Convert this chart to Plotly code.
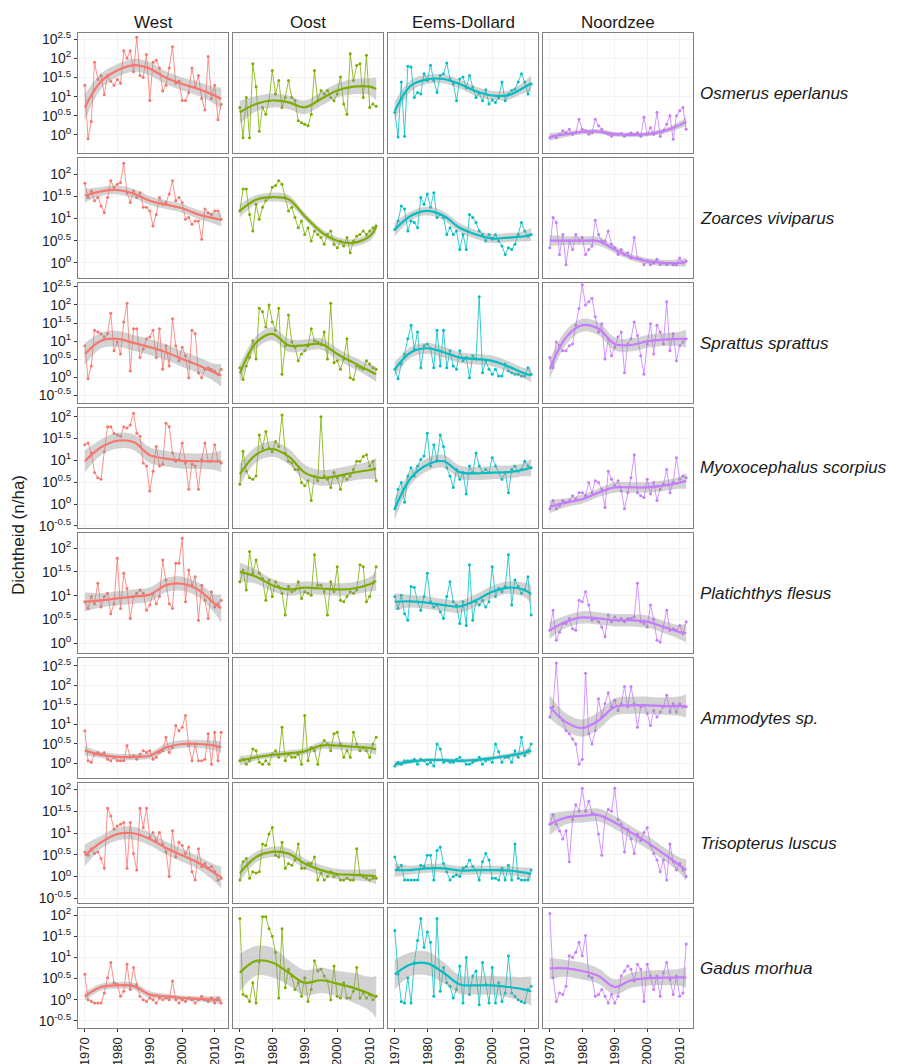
import plotly.graph_objects as go

# ---------------- data (values are log10 of density, n/ha) ----------------
years = list(range(1970, 2013))
knot_years = [1970, 1975, 1980, 1985, 1990, 1995, 2000, 2005, 2010, 2012]
regions = ["West", "Oost", "Eems-Dollard", "Noordzee"]
species = ["Osmerus eperlanus", "Zoarces viviparus", "Sprattus sprattus",
           "Myoxocephalus scorpius", "Platichthys flesus", "Ammodytes sp.",
           "Trisopterus luscus", "Gadus morhua"]
region_colors = ["#F8766D", "#7CAE00", "#00BFC4", "#C77CFF"]
x_ticks = [1970, 1980, 1990, 2000, 2010]

# per species: [West, Oost, Eems-Dollard, Noordzee]
osmerus_raw = [
    [1.3, -0.1, 0.35, 1.9, 1.45, 1.55, 1.05, 1.55, 1.4, 1.3, 1.45, 1.35, 2.2, 2.0, 2.2, 1.65, 2.55, 1.55, 1.5, 2.1,
     0.9, 1.9, 1.95, 1.75, 1.15, 1.3, 1.75, 2.3, 1.35, 1.4, 0.9, 0.9, 1.1, 1.75, 1.25, 1.55, 0.95, 0.65, 2.05, 0.95,
     1.3, 0.4, 0.8],
    [0.72, -0.07, 0.98, -0.07, 1.86, 1.26, 0.1, 0.72, 0.54, 0.89, 1.68, 1.07, 1.42, 0.72, 0.98, 1.42, 0.98, 0.89, 0.37, 0.32,
     0.28, 0.24, 0.54, 1.68, 0.89, 1.16, 1.07, 1.16, 0.98, 0.89, 1.07, 1.51, 0.81, 0.54, 2.12, 1.42, 1.81, 1.86, 0.98, 2.08,
     0.72, 0.81, 0.75],
    [0.59, -0.05, 1.38, -0.03, 1.79, 1.77, 0.98, 1.11, 1.07, 1.6, 1.42, 1.82, 1.42, 1.11, 1.55, 1.6, 1.88, 1.46, 1.33, 0.89,
     1.46, 1.51, 1.23, 1.55, 1.25, 0.98, 1.09, 0.89, 1.18, 0.81, 0.91, 0.85, 0.98, 1.38, 0.89, 1.07, 1.16, 1.2, 1.38, 1.6,
     1.38, 1.07, 1.33],
    [-0.07, -0.03, -0.07, 0.02, 0.11, 0.06, 0.15, 0.02, 0.06, 0.41, 0.15, 0.11, 0.02, 0.06, 0.41, 0.24, 0.15, 0.06, 0.02, -0.03,
     0.02, 0.02, 0.04, -0.03, 0.02, 0.06, 0.02, 0.06, -0.03, 0.46, 0.02, 0.19, 0.02, 0.59, -0.03, 0.11, 0.28, 0.5, -0.11, 0.5,
     0.63, 0.72, 0.15],
]
osmerus_smooth = [
    [0.72, 1.4, 1.68, 1.82, 1.73, 1.49, 1.33, 1.2, 1.03, 0.94],
    [0.59, 0.81, 0.9, 0.85, 0.72, 0.94, 1.16, 1.26, 1.26, 1.2],
    [0.63, 1.29, 1.45, 1.46, 1.33, 1.14, 1.03, 1.04, 1.25, 1.35],
    [-0.05, 0.02, 0.08, 0.09, 0.02, 0.0, 0.02, 0.1, 0.26, 0.35],
]
osmerus_band = [
    [0.35, 0.2, 0.17, 0.17, 0.17, 0.17, 0.17, 0.18, 0.22, 0.3],
    [0.3, 0.2, 0.18, 0.18, 0.18, 0.18, 0.18, 0.2, 0.22, 0.3],
    [0.25, 0.15, 0.12, 0.12, 0.12, 0.12, 0.12, 0.12, 0.15, 0.2],
    [0.1, 0.07, 0.06, 0.06, 0.06, 0.06, 0.06, 0.07, 0.09, 0.12],
]

zoarces_raw = [
    [1.79, 1.47, 1.62, 1.40, 1.47, 1.28, 1.13, 1.47, 1.85, 1.70, 1.77, 1.81, 2.24, 1.58, 1.36, 1.62, 1.47, 1.58, 1.25, 1.25,
     1.17, 0.83, 1.09, 1.47, 1.32, 1.36, 1.55, 1.85, 1.40, 1.47, 1.36, 0.98, 1.02, 0.87, 0.94, 0.94, 0.53, 1.21, 1.13, 1.09,
     1.17, 1.17, 0.98],
    [1.17, 1.66, 1.66, 1.09, 0.72, 1.32, 0.98, 1.25, 1.40, 1.47, 1.70, 1.74, 1.85, 1.77, 1.47, 1.17, 1.25, 1.02, 0.79, 0.94,
     0.64, 0.79, 0.49, 0.72, 0.64, 0.57, 0.42, 0.64, 0.72, 0.42, 0.34, 0.49, 0.38, 0.57, 0.23, 0.49, 0.60, 0.64, 0.72, 0.64,
     0.72, 0.79, 0.83],
    [0.75, 0.94, 1.28, 1.21, 0.72, 0.94, 0.91, 0.79, 1.47, 1.32, 1.55, 1.25, 1.58, 1.02, 1.09, 1.02, 0.64, 0.79, 0.64, 0.72,
     0.30, 0.64, 0.30, 1.09, 1.02, 0.91, 0.72, 0.64, 0.49, 0.64, 0.53, 0.64, 0.49, 0.38, 0.19, 0.34, 0.30, 0.42, 0.64, 0.91,
     0.72, 0.60, 0.64],
    [0.34, 1.02, 0.91, 0.19, 0.64, -0.04, 0.49, 0.30, 0.64, 0.49, 0.57, 0.19, 0.30, 0.38, 0.96, 0.64, 0.49, 0.49, 0.72, 0.42,
     0.34, 0.19, 0.30, 0.19, 0.23, 0.11, 0.57, 0.11, 0.08, -0.04, 0.04, -0.04, 0.0, 0.08, -0.04, 0.0, -0.04, 0.0, -0.04, -0.04,
     0.11, 0.0, 0.04],
]
zoarces_smooth = [
    [1.51, 1.61, 1.64, 1.56, 1.40, 1.31, 1.23, 1.09, 1.0, 0.97],
    [1.17, 1.42, 1.48, 1.43, 1.05, 0.7, 0.5, 0.45, 0.6, 0.8],
    [0.75, 1.06, 1.17, 1.06, 0.79, 0.64, 0.55, 0.57, 0.6, 0.64],
    [0.5, 0.5, 0.5, 0.49, 0.3, 0.13, 0.04, 0.0, 0.0, 0.02],
]
zoarces_band = [
    [0.15, 0.1, 0.1, 0.1, 0.1, 0.1, 0.1, 0.1, 0.12, 0.15],
    [0.15, 0.1, 0.1, 0.1, 0.08, 0.08, 0.08, 0.08, 0.1, 0.12],
    [0.15, 0.1, 0.1, 0.1, 0.1, 0.1, 0.1, 0.1, 0.12, 0.15],
    [0.12, 0.1, 0.1, 0.1, 0.08, 0.07, 0.07, 0.07, 0.08, 0.1],
]

sprattus_raw = [
    [0.87, -0.05, 0.31, 1.30, 1.25, 1.20, 1.11, 1.20, 1.77, 0.73, 0.97, 0.64, 1.53, 2.05, 0.17, 1.34, 1.34, 0.54, 0.78, 1.06,
     1.11, 1.30, 0.54, 1.34, 0.22, 0.87, 0.31, 1.62, 0.87, 0.45, 0.83, 0.59, -0.02, 1.30, 1.20, 0.12, -0.02, 0.22, 0.26, 0.22,
     0.17, 0.08, 0.22],
    [0.26, -0.07, 0.31, 0.54, 1.01, 0.50, 1.91, 1.81, 1.39, 2.0, 1.53, 1.30, 1.91, 0.08, 0.87, 1.72, 0.97, 0.83, 0.45, 0.64,
     0.73, 0.87, 1.34, 1.01, 0.97, 0.90, 1.25, 0.50, 2.05, 0.40, 0.45, 0.22, 0.50, 1.06, -0.02, -0.07, 0.31, 0.26, 0.22, 0.45,
     0.36, 0.26, 0.22],
    [0.22, -0.05, 0.36, 0.64, 1.06, 1.44, 0.78, 1.25, 0.26, 0.87, 0.92, 0.80, 0.26, 1.30, 0.31, 1.30, 0.26, 0.73, 0.31, 0.22,
     0.73, 0.45, 0.54, -0.02, 0.59, 0.50, 2.23, 0.12, 0.45, 0.22, 0.08, 0.22, 0.03, 0.03, 0.36, 0.17, 0.12, 0.08, 0.08, 0.03,
     0.03, 0.26, 0.08],
    [0.54, 0.26, 0.97, 0.87, 0.73, 0.73, 0.87, 0.92, 1.44, 1.9, 2.56, 2.0, 2.09, 2.19, 1.67, 1.25, 1.48, 0.50, 1.06, 0.59,
     0.83, 1.11, 1.25, 0.12, 0.92, 1.06, 1.53, 1.15, 0.59, 0.08, 0.92, 1.48, 0.64, 1.44, 1.25, 0.92, 2.09, 0.73, 1.20, 0.45,
     0.87, 0.97, 1.06],
]
sprattus_smooth = [
    [0.64, 1.01, 1.06, 0.95, 0.83, 0.69, 0.5, 0.33, 0.12, 0.05],
    [0.1, 0.95, 1.2, 0.88, 0.88, 0.92, 0.64, 0.4, 0.17, 0.08],
    [0.22, 0.69, 0.8, 0.69, 0.54, 0.5, 0.45, 0.29, 0.1, 0.05],
    [0.22, 1.1, 1.44, 1.34, 0.92, 0.89, 0.99, 1.04, 1.06, 1.06],
]
sprattus_band = [
    [0.3, 0.22, 0.22, 0.22, 0.22, 0.22, 0.22, 0.22, 0.25, 0.32],
    [0.25, 0.18, 0.18, 0.18, 0.16, 0.16, 0.16, 0.16, 0.18, 0.22],
    [0.2, 0.15, 0.15, 0.15, 0.15, 0.15, 0.15, 0.15, 0.15, 0.2],
    [0.28, 0.2, 0.18, 0.18, 0.18, 0.18, 0.18, 0.18, 0.2, 0.25],
]

myoxo_raw = [
    [1.36, 1.40, 1.17, 0.72, 0.60, 0.57, 1.2, 1.77, 1.77, 1.62, 1.58, 1.55, 1.77, 1.74, 1.81, 2.08, 1.62, 1.55, 0.94, 0.87,
     0.30, 0.75, 1.32, 0.87, 0.91, 1.85, 1.77, 1.17, 0.98, 1.02, 1.40, 0.94, 0.34, 0.91, 0.87, 0.34, 1.02, 1.40, 0.98, 0.98,
     1.36, 0.98, 0.94],
    [0.45, 1.21, 0.75, 0.60, 0.57, 0.64, 1.58, 1.28, 1.66, 1.28, 1.20, 1.43, 1.32, 2.04, 1.17, 0.98, 0.94, 0.79, 0.79, 0.49,
     0.42, 0.53, 0.08, 0.64, 0.53, 2.0, 0.64, 0.57, 0.38, 0.72, 0.60, 0.34, 0.64, 0.57, 0.64, 0.79, 0.98, 0.98, 1.09, 1.13,
     0.87, 0.98, 0.53],
    [-0.11, 0.34, 0.49, 0.04, 0.64, 0.83, 0.64, 0.87, 1.02, 1.1, 1.62, 0.87, 1.36, 1.0, 1.58, 1.32, 0.83, 0.64, 0.38, 0.79,
     0.57, 0.72, 0.23, 0.87, 0.72, 1.17, 0.87, 0.72, 0.79, 0.72, 1.06, 0.87, 0.72, 0.57, 0.72, 0.26, 0.79, 0.87, 0.75, 0.79,
     0.98, 0.87, 0.83],
    [-0.11, 0.08, -0.11, -0.04, 0.08, 0.04, 0.08, 0.19, 0.11, 0.26, 0.26, 0.19, 0.49, 0.26, 0.53, 0.49, 0.34, -0.08, 0.75, 0.57,
     0.42, 0.53, 0.30, -0.11, 0.26, 0.60, 1.13, 0.26, 0.19, 0.15, 0.57, 0.23, 0.49, 0.08, 0.34, 0.45, 0.79, 0.26, 0.49, 1.06,
     0.57, 0.64, 0.60],
]
myoxo_smooth = [
    [0.98, 1.3, 1.45, 1.42, 1.12, 1.04, 0.99, 0.98, 0.98, 0.98],
    [0.68, 1.13, 1.26, 1.09, 0.72, 0.6, 0.64, 0.72, 0.78, 0.81],
    [-0.11, 0.6, 0.9, 0.98, 0.73, 0.7, 0.72, 0.73, 0.79, 0.83],
    [-0.06, 0.03, 0.11, 0.26, 0.38, 0.38, 0.38, 0.42, 0.49, 0.53],
]
myoxo_band = [
    [0.25, 0.18, 0.18, 0.18, 0.18, 0.18, 0.18, 0.18, 0.2, 0.25],
    [0.25, 0.18, 0.18, 0.18, 0.18, 0.18, 0.18, 0.18, 0.2, 0.25],
    [0.25, 0.15, 0.15, 0.15, 0.15, 0.15, 0.15, 0.15, 0.15, 0.2],
    [0.15, 0.1, 0.1, 0.1, 0.12, 0.12, 0.12, 0.12, 0.14, 0.18],
]

platichthys_raw = [
    [0.87, 0.73, 0.98, 0.83, 1.26, 0.76, 0.98, 1.05, 0.62, 0.83, 1.79, 0.73, 1.47, 1.15, 0.52, 0.98, 1.05, 1.12, 1.05, 0.69,
     0.80, 1.05, 0.83, 0.98, 1.75, 1.33, 0.83, 0.73, 1.68, 1.68, 2.21, 0.87, 1.54, 1.22, 1.40, 0.48, 1.22, 0.90, 0.52, 1.08,
     0.76, 0.83, 0.90],
    [1.29, 1.54, 1.12, 1.93, 1.47, 1.75, 1.47, 1.36, 0.90, 1.33, 0.98, 1.29, 1.19, 1.05, 0.59, 1.19, 1.08, 1.12, 1.29, 0.94,
     1.08, 1.05, 1.01, 1.86, 1.22, 1.22, 1.08, 0.59, 1.29, 1.08, 1.61, 0.90, 0.87, 0.98, 1.08, 1.05, 1.12, 1.65, 1.61, 0.87,
     0.98, 1.26, 1.61],
    [0.98, 0.73, 1.01, 0.62, 0.48, 1.19, 1.17, 0.87, 0.69, 0.98, 1.47, 0.87, 0.76, 0.80, 0.66, 0.52, 0.98, 1.29, 0.87, 0.80,
     0.41, 0.87, 0.37, 1.65, 0.48, 0.87, 0.80, 0.90, 0.76, 0.87, 1.61, 0.98, 1.15, 1.08, 1.19, 1.86, 0.80, 1.33, 1.19, 1.05,
     1.12, 1.40, 0.59],
    [0.27, 0.69, 0.06, 0.23, 0.41, 0.41, 0.52, 0.30, 0.27, 0.90, 0.87, 1.08, 0.80, 0.48, 0.52, 0.45, 0.34, 0.13, 0.59, 0.45,
     0.55, 0.48, 0.52, 0.45, 0.52, 0.52, 0.55, 1.26, 0.45, 0.41, 0.34, 0.80, 0.50, 0.06, 0.02, 0.34, 0.69, 0.27, 0.30, 0.27,
     0.37, 0.20, 0.45],
]
platichthys_smooth = [
    [0.87, 0.9, 0.94, 0.98, 1.02, 1.22, 1.25, 1.12, 0.83, 0.73],
    [1.5, 1.4, 1.22, 1.13, 1.17, 1.15, 1.13, 1.15, 1.24, 1.31],
    [0.87, 0.88, 0.85, 0.8, 0.77, 0.9, 1.08, 1.17, 1.12, 1.03],
    [0.27, 0.45, 0.54, 0.52, 0.48, 0.48, 0.45, 0.34, 0.23, 0.21],
]
platichthys_band = [
    [0.2, 0.15, 0.15, 0.15, 0.15, 0.15, 0.15, 0.15, 0.2, 0.3],
    [0.2, 0.15, 0.13, 0.13, 0.13, 0.13, 0.13, 0.13, 0.15, 0.2],
    [0.18, 0.13, 0.13, 0.13, 0.13, 0.13, 0.13, 0.13, 0.15, 0.2],
    [0.18, 0.13, 0.13, 0.13, 0.13, 0.13, 0.13, 0.13, 0.15, 0.2],
]

ammodytes_raw = [
    [0.84, 0.07, 0.03, 0.24, 0.28, 0.24, 0.28, 0.11, 0.07, 0.16, 0.07, 0.07, 0.07, 0.46, 0.16, 0.20, 0.11, 0.24, 0.33, 0.28,
     0.33, 0.11, 0.16, 0.28, 0.33, 0.67, 0.28, 0.41, 0.97, 0.84, 0.93, 1.23, 0.46, 0.07, 0.50, 0.07, 0.07, 0.11, 0.76, -0.02,
     0.80, 0.07, 0.80],
    [0.07, 0.11, -0.02, 0.07, 0.37, 0.33, 0.03, -0.02, 0.07, -0.02, 0.24, 0.33, 0.16, 0.93, 0.07, 0.24, 0.16, 0.16, 0.24, -0.02,
     1.23, 0.07, 0.41, 0.33, -0.02, 0.46, 0.59, 0.50, 0.33, 0.76, 0.80, 0.50, 0.16, 0.33, 0.16, 0.80, 0.50, 0.33, 0.41, 0.33,
     0.16, 0.50, 0.67],
    [-0.06, 0.03, -0.02, 0.07, 0.07, 0.07, 0.11, -0.02, 0.11, 0.07, -0.02, 0.03, -0.06, 0.50, 0.37, 0.03, 0.07, 0.03, 0.03, 0.11,
     0.16, 0.07, -0.02, -0.02, 0.03, 0.07, 0.16, -0.02, 0.07, 0.11, 0.03, 0.50, 0.30, 0.03, 0.16, 0.16, 0.03, 0.33, 0.16, 0.67,
     0.20, 0.33, 0.50],
    [1.19, 1.45, 2.57, 1.19, 1.10, 0.84, 0.76, 0.63, 0.50, -0.02, 0.11, 2.31, 0.76, 0.50, 0.84, 1.66, 1.19, 1.53, 1.81, 1.45,
     1.62, 1.36, 1.53, 1.97, 1.45, 1.97, 1.53, 0.93, 1.45, 1.49, 1.28, 0.97, 1.36, 1.19, 1.32, 1.45, 1.75, 1.32, 1.53, 1.32,
     1.53, 1.45, 1.45],
]
ammodytes_smooth = [
    [0.33, 0.22, 0.17, 0.17, 0.2, 0.41, 0.5, 0.5, 0.46, 0.41],
    [0.07, 0.16, 0.22, 0.26, 0.31, 0.46, 0.46, 0.43, 0.4, 0.36],
    [-0.02, 0.05, 0.09, 0.09, 0.07, 0.09, 0.14, 0.2, 0.28, 0.33],
    [1.45, 1.06, 0.91, 1.1, 1.45, 1.49, 1.49, 1.47, 1.47, 1.47],
]
ammodytes_band = [
    [0.12, 0.08, 0.08, 0.08, 0.08, 0.1, 0.1, 0.1, 0.12, 0.15],
    [0.12, 0.08, 0.08, 0.08, 0.08, 0.1, 0.1, 0.1, 0.12, 0.15],
    [0.08, 0.05, 0.05, 0.05, 0.05, 0.05, 0.05, 0.06, 0.08, 0.1],
    [0.3, 0.22, 0.22, 0.22, 0.22, 0.22, 0.22, 0.22, 0.25, 0.3],
]

trisopterus_raw = [
    [0.57, 0.49, 0.64, 0.53, 0.57, 0.42, 0.19, 1.58, 1.40, 1.09, 1.17, 1.21, 1.25, 0.19, 1.25, 0.53, 0.15, 1.58, 1.13, 1.58,
     0.91, 1.02, 0.83, 1.02, 0.75, 0.57, 0.0, 1.06, 0.45, 0.79, 0.72, 0.53, 0.68, 0.11, -0.08, 0.64, 0.23, 0.30, 0.19, 0.23,
     0.11, -0.08, -0.04],
    [-0.08, 0.34, 0.42, -0.04, 0.11, 0.08, 0.11, 0.75, 0.72, 0.98, 1.13, 0.49, 0.45, 0.79, 0.19, 0.30, 0.26, 0.38, 0.75, 0.19,
     0.19, 0.30, 0.30, 0.45, -0.08, 0.08, -0.08, 0.0, 0.11, 0.0, 0.04, -0.08, -0.08, -0.04, -0.08, -0.08, 0.64, 0.04, 0.0, -0.04,
     -0.08, -0.04, -0.04],
    [0.45, 0.19, 0.26, -0.08, -0.08, -0.08, -0.08, -0.08, 0.26, 0.23, 0.49, 0.49, -0.08, 0.60, 0.68, 0.30, 0.11, -0.08, 0.0, 0.04,
     0.0, 0.19, 0.23, 0.38, 0.23, 0.15, -0.08, 0.34, 0.53, 0.38, -0.04, -0.04, -0.08, 0.19, -0.08, 0.26, -0.08, 0.75, -0.04, -0.08,
     -0.08, -0.08, 0.15],
    [1.21, 1.43, 1.21, 1.06, 0.87, 1.06, 0.34, 1.32, 1.66, 1.51, 2.04, 1.51, 1.74, 1.47, 1.43, 0.98, 0.49, 1.36, 1.55, 1.51,
     2.04, 1.32, 1.21, 0.57, 1.09, 0.87, 0.53, 0.98, 0.83, 1.02, 1.13, 0.72, 0.53, 0.38, 0.11, 0.38, -0.08, 0.75, 0.34, 0.15,
     0.30, 0.15, 0.0],
]
trisopterus_smooth = [
    [0.49, 0.79, 0.98, 1.0, 0.87, 0.66, 0.49, 0.32, 0.08, -0.02],
    [0.08, 0.45, 0.57, 0.53, 0.3, 0.15, 0.06, 0.04, 0.02, 0.0],
    [0.15, 0.15, 0.19, 0.19, 0.14, 0.15, 0.15, 0.14, 0.09, 0.06],
    [1.21, 1.36, 1.4, 1.42, 1.25, 1.02, 0.79, 0.53, 0.26, 0.15],
]
trisopterus_band = [
    [0.25, 0.15, 0.15, 0.15, 0.15, 0.15, 0.15, 0.15, 0.2, 0.25],
    [0.2, 0.12, 0.12, 0.12, 0.12, 0.12, 0.12, 0.12, 0.15, 0.18],
    [0.15, 0.1, 0.1, 0.1, 0.1, 0.1, 0.1, 0.1, 0.12, 0.15],
    [0.25, 0.15, 0.15, 0.15, 0.15, 0.15, 0.15, 0.15, 0.18, 0.25],
]

gadus_raw = [
    [0.60, 0.0, -0.04, -0.08, -0.08, -0.08, 0.16, 0.52, 0.88, 0.40, 0.36, 0.08, 0.20, 0.84, 0.24, 0.76, 0.36, 0.08, 0.0, -0.04,
     0.04, 0.0, -0.08, 0.04, 0.0, 0.04, 0.0, 0.44, 0.0, -0.08, 0.0, -0.04, 0.04, 0.0, -0.08, 0.0, 0.08, 0.0, -0.04, 0.04,
     -0.08, 0.04, -0.08],
    [1.92, 0.12, 0.08, -0.04, 0.40, -0.08, 0.9, 1.96, 1.96, 1.68, 1.50, 1.12, 0.04, 1.68, 0.28, 0.72, 0.56, 0.24, 0.40, 0.08,
     0.52, -0.04, 0.24, 0.92, 0.68, 0.72, 0.56, 0.44, 0.0, 0.80, 0.08, 0.04, 0.40, 0.04, 0.04, 0.20, 0.76, 0.04, 0.16, 0.04,
     0.12, 0.0, 0.08],
    [1.64, 0.60, -0.04, -0.08, 0.52, -0.08, 0.88, 1.40, 1.92, 1.24, 1.60, 1.36, 0.08, 1.92, 0.20, 0.76, 0.40, 0.32, 0.04, 0.24,
     0.80, -0.08, 1.0, 0.12, 0.56, 0.68, -0.12, 0.88, 0.36, -0.08, 0.76, -0.08, 0.40, -0.04, 0.16, 1.04, 0.16, 0.08, 0.0, -0.04,
     -0.08, 0.24, 0.32],
    [2.04, 0.52, -0.04, 0.16, 0.12, 0.32, 1.04, 1.0, 1.12, 1.36, 1.04, 1.52, 0.56, 0.52, 0.08, 0.12, 0.24, 0.08, -0.08, 0.12,
     -0.08, 0.08, 0.56, 0.68, 0.80, 0.72, 0.44, 0.84, 0.72, -0.04, 0.84, 0.56, 0.24, 0.56, 0.08, 0.64, 0.88, 0.48, 0.12, 0.56,
     0.08, 0.16, 1.32],
]
gadus_smooth = [
    [0.08, 0.3, 0.34, 0.32, 0.12, 0.08, 0.04, 0.02, 0.0, -0.02],
    [0.64, 0.92, 0.88, 0.64, 0.4, 0.46, 0.38, 0.28, 0.14, 0.06],
    [0.6, 0.84, 0.86, 0.64, 0.36, 0.34, 0.34, 0.3, 0.24, 0.2],
    [0.74, 0.74, 0.68, 0.56, 0.3, 0.46, 0.51, 0.52, 0.53, 0.53],
]
gadus_band = [
    [0.1, 0.08, 0.08, 0.08, 0.08, 0.06, 0.06, 0.06, 0.08, 0.1],
    [0.45, 0.35, 0.35, 0.3, 0.3, 0.3, 0.3, 0.35, 0.4, 0.5],
    [0.35, 0.28, 0.28, 0.25, 0.22, 0.22, 0.22, 0.25, 0.3, 0.35],
    [0.25, 0.2, 0.2, 0.18, 0.18, 0.18, 0.18, 0.18, 0.2, 0.25],
]

row_raw = [osmerus_raw, zoarces_raw, sprattus_raw, myoxo_raw,
           platichthys_raw, ammodytes_raw, trisopterus_raw, gadus_raw]
row_smooth = [osmerus_smooth, zoarces_smooth, sprattus_smooth, myoxo_smooth,
              platichthys_smooth, ammodytes_smooth, trisopterus_smooth, gadus_smooth]
row_band = [osmerus_band, zoarces_band, sprattus_band, myoxo_band,
            platichthys_band, ammodytes_band, trisopterus_band, gadus_band]

# y ranges (log10 units) and tick exponents per row
row_yrange = [[-0.47, 2.66], [-0.34, 2.36], [-0.72, 2.61], [-0.55, 2.2],
              [-0.21, 2.32], [-0.37, 2.7], [-0.61, 2.16], [-0.67, 2.17]]
row_ticks = [[0, 0.5, 1, 1.5, 2, 2.5], [0, 0.5, 1, 1.5, 2], [-0.5, 0, 0.5, 1, 1.5, 2, 2.5],
             [-0.5, 0, 0.5, 1, 1.5, 2], [0, 0.5, 1, 1.5, 2], [0, 0.5, 1, 1.5, 2, 2.5],
             [-0.5, 0, 0.5, 1, 1.5, 2], [-0.5, 0, 0.5, 1, 1.5, 2]]

# ---------------- layout geometry (pixels) ----------------
W, H = 909, 1064
OX, OY = 8, 8          # page (body) margin offset of the rendered figure
FONT = "Liberation Sans, Arial, Helvetica, sans-serif"


def fx(p):
    return (p - OX) / W


def fy(p):
    return 1 - (p - OY) / H


def fmt_exp(e):
    return str(int(e)) if float(e).is_integer() else str(e)


fig = go.Figure()
axes = {}
annotations = []

for r in range(8):
    top = 33 + r * 125
    bottom = top + 120
    for c in range(4):
        k = r * 4 + c + 1
        xa = "x" if k == 1 else f"x{k}"
        ya = "y" if k == 1 else f"y{k}"
        left = 78 + c * 155
        right = left + 150
        col = region_colors[c]
        raw = row_raw[r][c]
        sm = row_smooth[r][c]
        bw = row_band[r][c]

        fig.add_trace(go.Scatter(
            x=years, y=[10 ** v for v in raw], mode="lines+markers",
            line=dict(color=col, width=0.8), marker=dict(color=col, size=3),
            xaxis=xa, yaxis=ya, showlegend=False, hoverinfo="skip"))
        fig.add_trace(go.Scatter(
            x=knot_years, y=[10 ** (s - b) for s, b in zip(sm, bw)], mode="lines",
            line=dict(width=0, shape="spline", color="rgba(0,0,0,0)"),
            xaxis=xa, yaxis=ya, showlegend=False, hoverinfo="skip"))
        fig.add_trace(go.Scatter(
            x=knot_years, y=[10 ** (s + b) for s, b in zip(sm, bw)], mode="lines",
            line=dict(width=0, shape="spline", color="rgba(0,0,0,0)"),
            fill="tonexty", fillcolor="rgba(150,150,150,0.42)",
            xaxis=xa, yaxis=ya, showlegend=False, hoverinfo="skip"))
        fig.add_trace(go.Scatter(
            x=knot_years, y=[10 ** s for s in sm], mode="lines",
            line=dict(color=col, width=2.2, shape="spline"),
            xaxis=xa, yaxis=ya, showlegend=False, hoverinfo="skip"))

        axes["xaxis" if k == 1 else f"xaxis{k}"] = dict(
            domain=[fx(left), fx(right)], anchor=ya, range=[1967.9, 2014.1],
            tickvals=x_ticks, ticktext=[str(t) for t in x_ticks],
            showticklabels=(r == 7), tickangle=-90, automargin=False,
            ticks="outside" if r == 7 else "", ticklen=3, tickcolor="#333333",
            tickfont=dict(size=13, color="#222222", family=FONT),
            showgrid=True, gridcolor="#F3F3F3", gridwidth=0.6, zeroline=False,
            showline=True, mirror=True, linecolor="#7F7F7F", linewidth=1)
        axes["yaxis" if k == 1 else f"yaxis{k}"] = dict(
            domain=[fy(bottom), fy(top)], anchor=xa, type="log",
            range=row_yrange[r], automargin=False,
            tickvals=[10 ** e for e in row_ticks[r]],
            ticktext=[f"10<sup>{fmt_exp(e)}</sup>" for e in row_ticks[r]],
            showticklabels=(c == 0),
            ticks="outside" if c == 0 else "", ticklen=3, tickcolor="#333333",
            tickfont=dict(size=14, color="#222222", family=FONT),
            showgrid=True, gridcolor="#F3F3F3", gridwidth=0.6, zeroline=False,
            showline=True, mirror=True, linecolor="#7F7F7F", linewidth=1)

    annotations.append(dict(
        text=f"<i>{species[r]}</i>", x=fx(698), y=fy(top + 60), xref="paper", yref="paper",
        xanchor="left", yanchor="middle", showarrow=False,
        font=dict(size=17, color="#1A1A1A", family=FONT)))

for c in range(4):
    annotations.append(dict(
        text=regions[c], x=fx(78 + c * 155 + 75), y=fy(22), xref="paper", yref="paper",
        xanchor="center", yanchor="middle", showarrow=False,
        font=dict(size=17, color="#1A1A1A", family=FONT)))

annotations.append(dict(
    text="Dichtheid (n/ha)", x=fx(18), y=fy(535), xref="paper", yref="paper",
    xanchor="center", yanchor="middle", textangle=-90, showarrow=False,
    font=dict(size=17, color="#1A1A1A", family=FONT)))

fig.update_layout(
    width=W, height=H, margin=dict(l=0, r=0, t=0, b=0, autoexpand=False),
    paper_bgcolor="white", plot_bgcolor="white",
    font=dict(family=FONT, color="#1A1A1A"),
    annotations=annotations, showlegend=False, **axes)

fig.write_html("out.html")
